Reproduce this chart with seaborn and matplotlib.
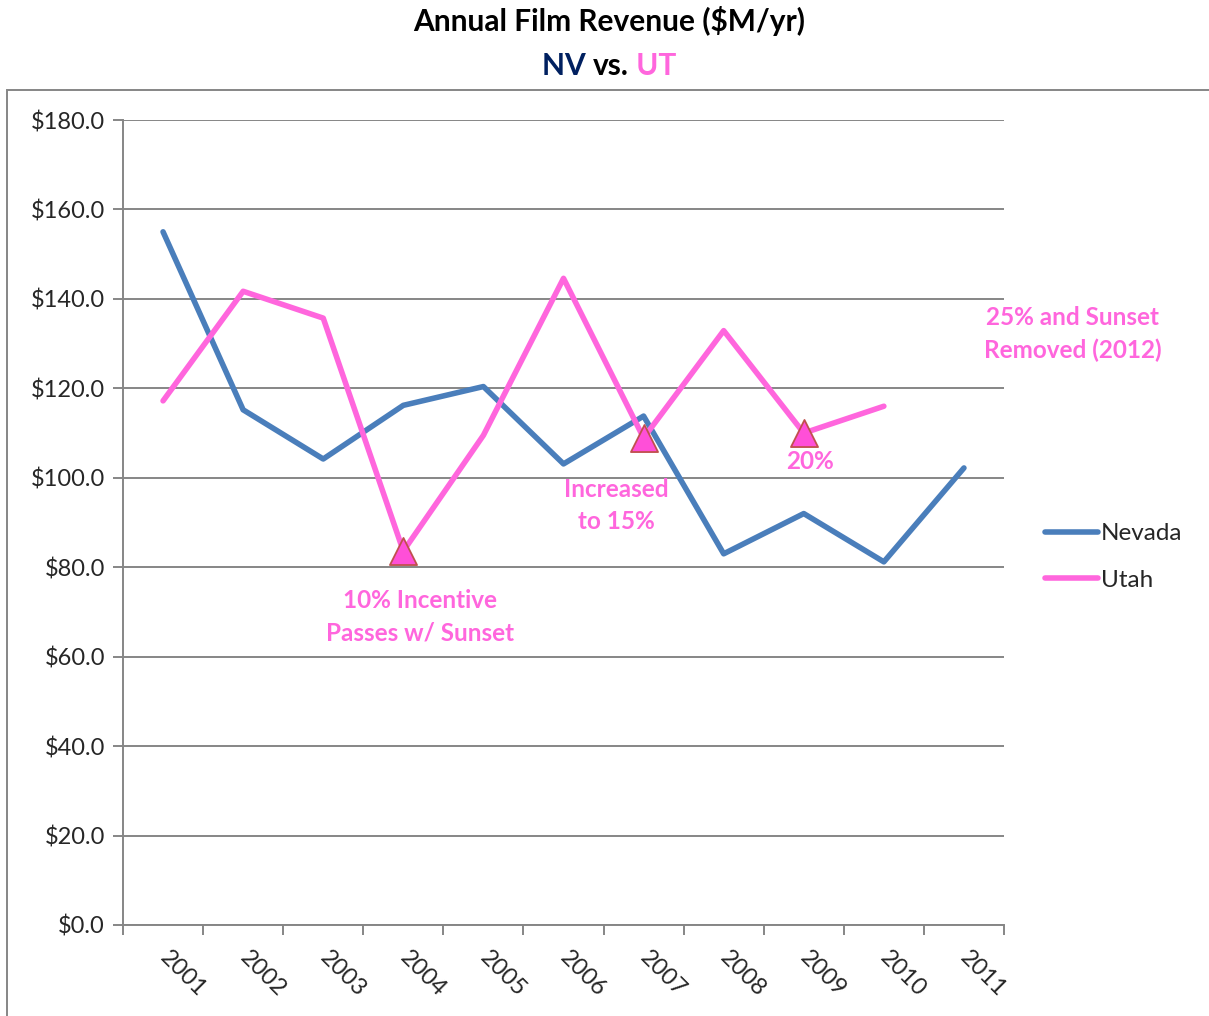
import matplotlib
matplotlib.use("Agg")
import matplotlib.pyplot as plt
import seaborn as sns
import pandas as pd
import numpy as np
from matplotlib.patches import Rectangle

years = ["2001", "2002", "2003", "2004", "2005", "2006", "2007", "2008", "2009", "2010", "2011"]
nevada = [155.0, 115.2, 104.2, 116.2, 120.4, 103.1, 113.8, 83.0, 92.0, 81.2, 102.2]
utah = [117.2, 141.7, 135.7, 83.6, 109.5, 144.6, 108.9, 132.9, 110.0, 116.0, np.nan]
milestone_years = ["2004", "2007", "2009"]
ann_texts = ["10% Incentive\nPasses w/ Sunset", "Increased\nto 15%", "20%", "25% and Sunset\nRemoved (2012)"]

NV_COLOR = "#4A7EBB"
UT_COLOR = "#FF66DD"
GRID = "#868686"

sns.set_theme(style="white")
FONT = ["Lato", "DejaVu Sans"]
plt.rcParams["font.family"] = FONT

df = pd.DataFrame({
    "pos": list(range(len(years))) * 2,
    "value": nevada + utah,
    "State": ["Nevada"] * len(years) + ["Utah"] * len(years),
})
df = df.dropna()

fig = plt.figure(figsize=(12.09, 10.16), dpi=100)
ax = fig.add_axes([123 / 1209, 1 - 925 / 1016, (1004 - 123) / 1209, (925 - 120) / 1016])

sns.lineplot(data=df, x="pos", y="value", hue="State", palette={"Nevada": NV_COLOR, "Utah": UT_COLOR},
             linewidth=4.0, ax=ax, legend=True, solid_capstyle="round")

mdf = pd.DataFrame({"pos": [years.index(y) for y in milestone_years],
                    "value": [utah[years.index(y)] for y in milestone_years]})
sns.scatterplot(data=mdf, x="pos", y="value", marker="^", s=380, color="#FF4FD8",
                edgecolor="#C0504D", linewidth=1.3, ax=ax, zorder=5, legend=False)

TICK_FS = 17
ax.set_xlim(-0.5, len(years) - 0.5)
ax.set_ylim(0, 180)
ax.set_yticks(np.arange(0, 181, 20))
ax.set_yticklabels([f"${v:.1f}" for v in np.arange(0, 181, 20)], fontsize=TICK_FS)
ax.yaxis.grid(True, color=GRID, linewidth=1.4)
ax.set_axisbelow(True)
ax.tick_params(axis="y", length=7, width=1.4, color=GRID, pad=6, left=True)

ax.set_xticks(range(len(years)))
ax.set_xticklabels(years, rotation=-45, ha="left", va="center", rotation_mode="anchor", fontsize=TICK_FS)
ax.tick_params(axis="x", which="major", length=0, pad=21)
ax.set_xticks(np.arange(-0.5, len(years), 1), minor=True)
ax.tick_params(axis="x", which="minor", length=7, width=1.4, color=GRID, bottom=True)

for s in ["top", "right"]:
    ax.spines[s].set_visible(False)
for s in ["left", "bottom"]:
    ax.spines[s].set_color(GRID)
    ax.spines[s].set_linewidth(1.4)
ax.set_xlabel("")
ax.set_ylabel("")

leg = ax.legend(loc="center left", bbox_to_anchor=(1023 / 1209, 1 - 557 / 1016), bbox_transform=fig.transFigure,
                frameon=False, fontsize=17.5, handlelength=2.2, handletextpad=0.1, labelspacing=1.05)
for h in leg.get_lines():
    h.set_linewidth(4.0)
    h.set_solid_capstyle("round")

akw = dict(color=UT_COLOR, fontsize=17.5, fontweight="bold", ha="center", va="center", linespacing=1.5)
ax.text(3.21, 69.0, ann_texts[0], **akw)
ax.text(5.66, 93.8, ann_texts[1], **akw)
ax.text(8.08, 103.6, ann_texts[2], **akw)
ax.text(11.36, 132.1, ann_texts[3], clip_on=False, **akw)

TFS = 21.5
fig.text(609 / 1209, 1 - 21 / 1016, "Annual Film Revenue ($M/yr)", ha="center", va="center",
         fontsize=TFS, fontweight="bold", color="black")
vs = fig.text(611 / 1209, 1 - 66 / 1016, "vs.", ha="center", va="center", fontsize=TFS,
              fontweight="bold", color="black")
ax.annotate("NV ", xy=(0, 0.5), xycoords=vs, ha="right", va="center", fontsize=TFS,
            fontweight="bold", color="#002060", annotation_clip=False)
ax.annotate(" UT", xy=(1, 0.5), xycoords=vs, ha="left", va="center", fontsize=TFS,
            fontweight="bold", color="#FF66DD", annotation_clip=False)

fig.patches.append(Rectangle((7 / 1209, -0.1), 1.2, 1 - 90 / 1016 + 0.1, transform=fig.transFigure,
                             fill=False, edgecolor=GRID, linewidth=1.4, zorder=0))

fig.savefig("out.png", dpi=100)
